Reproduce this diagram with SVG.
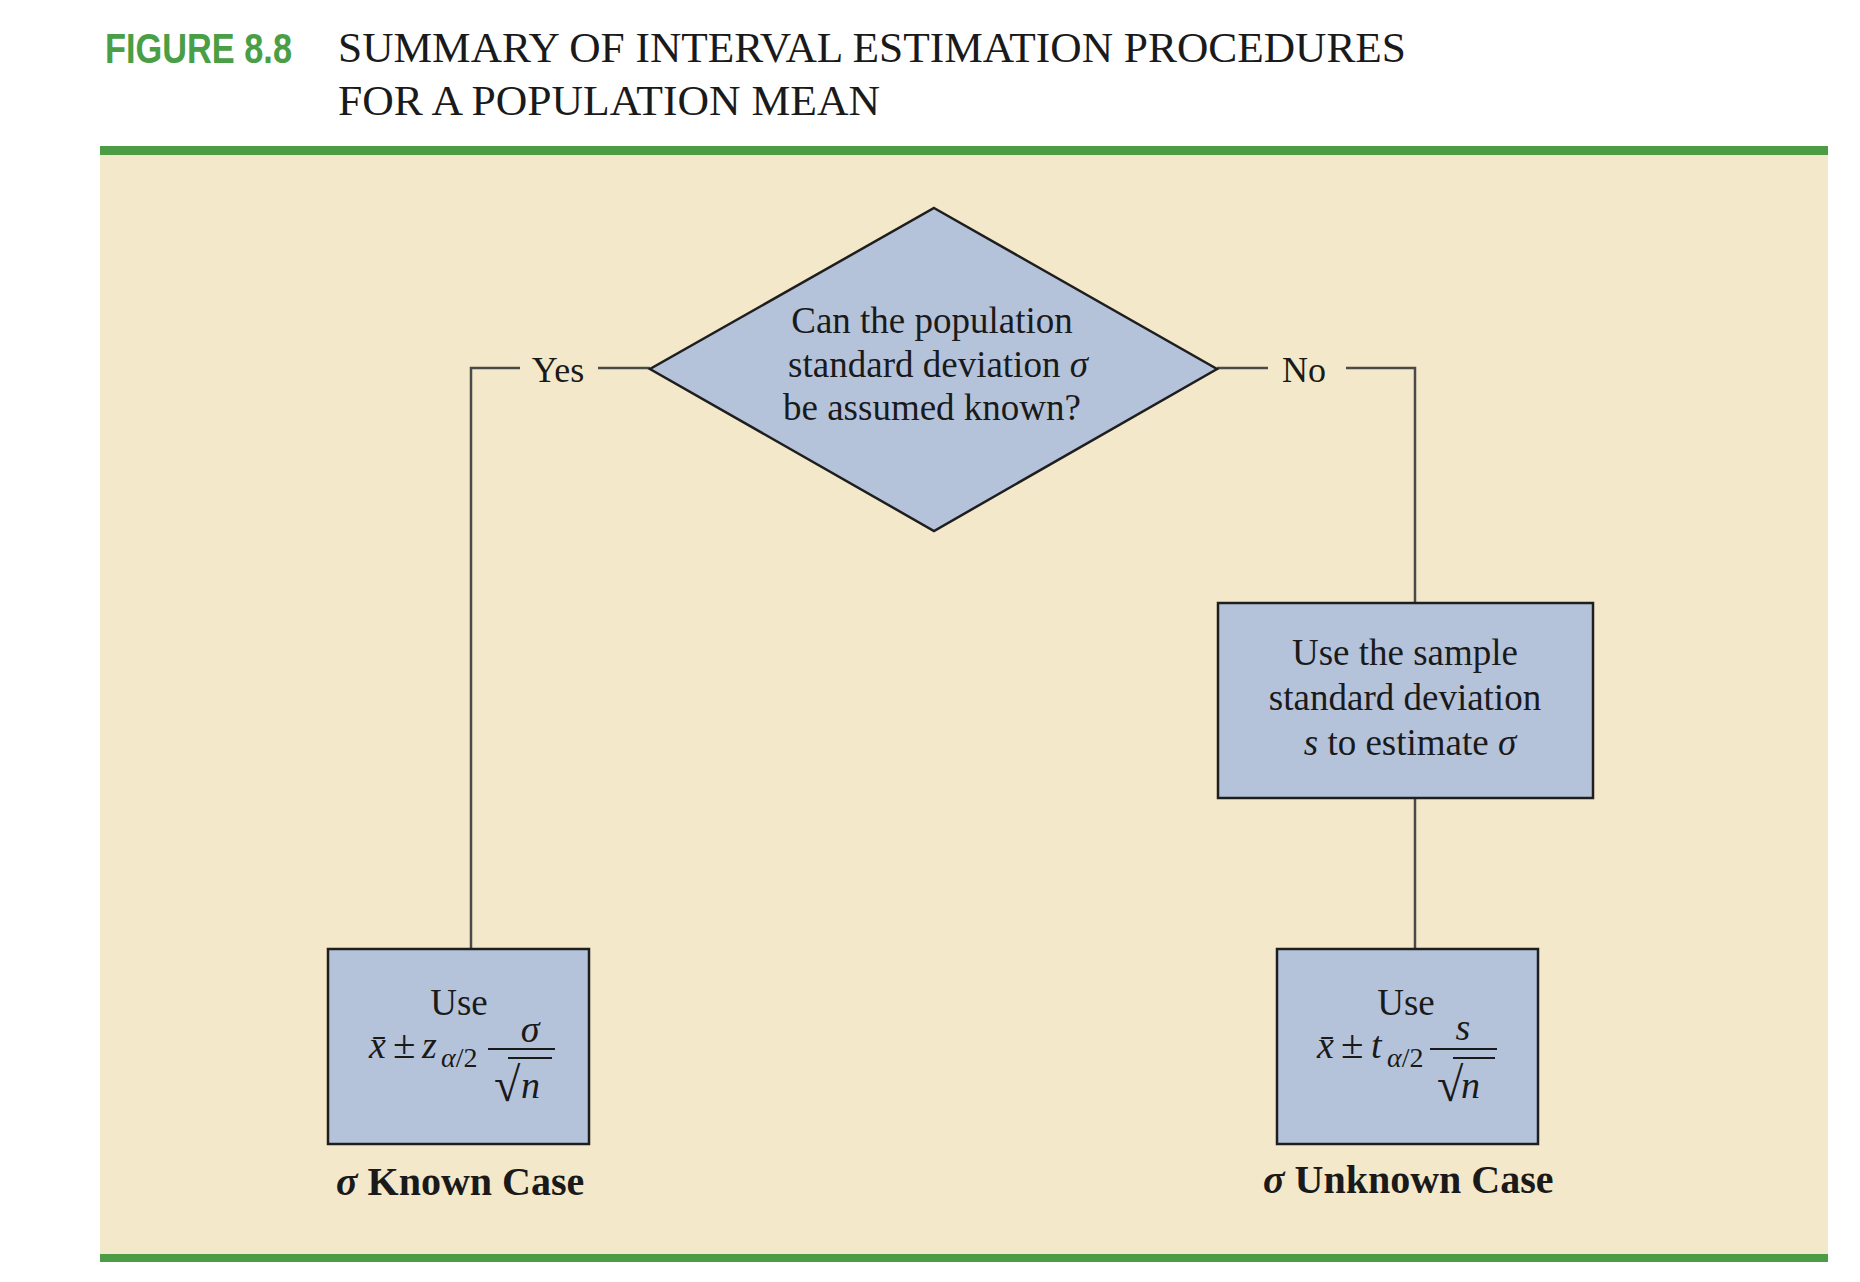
<svg xmlns="http://www.w3.org/2000/svg" width="1860" height="1282" viewBox="0 0 1860 1282">
<style>
.serif{font-family:"Liberation Serif","Times New Roman",serif;fill:#1a1a1a}
.t37{font-size:37px}
.lbl{font-size:36px}
.node{fill:#b5c3da;stroke:#1e1e1e;stroke-width:2.5}
.conn{fill:none;stroke:#4a4a4a;stroke-width:2.5}
.cap{font-size:40px;font-weight:bold}
.f38{font-size:38px}
.pm{font-size:41px}
.it{font-style:italic}
.bar{stroke:#1a1a1a;stroke-width:2}
</style>
<rect x="0" y="0" width="1860" height="1282" fill="#ffffff"/>
<g id="title">
<text x="105" y="63" font-family="Liberation Sans, Arial, sans-serif" font-weight="bold" font-size="42" fill="#4a9e45" textLength="187" lengthAdjust="spacingAndGlyphs">FIGURE 8.8</text>
<text class="serif" x="338" y="62" font-size="42.5" textLength="1068" lengthAdjust="spacingAndGlyphs">SUMMARY OF INTERVAL ESTIMATION PROCEDURES</text>
<text class="serif" x="338" y="115" font-size="42.5" textLength="542" lengthAdjust="spacingAndGlyphs">FOR A POPULATION MEAN</text>
</g>
<rect x="100" y="155" width="1728" height="1099" fill="#f3e8c9"/>
<rect x="100" y="146" width="1728" height="9" fill="#4b9c44"/>
<rect x="100" y="1254" width="1728" height="8" fill="#4b9c44"/>
<g id="connectors">
<polyline class="conn" points="650,368 598,368"/>
<polyline class="conn" points="520,368 471,368 471,949"/>
<polyline class="conn" points="1217,368 1268,368"/>
<polyline class="conn" points="1346,368 1415,368 1415,603"/>
<polyline class="conn" points="1415,798 1415,949"/>
<text class="serif lbl" x="558" y="382" text-anchor="middle">Yes</text>
<text class="serif lbl" x="1304" y="382" text-anchor="middle">No</text>
</g>
<g id="decision">
<polygon class="node" points="934,208 1217,369 934,531 650,369"/>
<text class="serif t37" x="932" y="333" text-anchor="middle">Can the population</text>
<text class="serif t37" x="938" y="377" text-anchor="middle">standard deviation <tspan class="it">σ</tspan></text>
<text class="serif t37" x="932" y="420" text-anchor="middle">be assumed known?</text>
</g>
<g id="sample-sd">
<rect class="node" x="1218" y="603" width="375" height="195"/>
<text class="serif t37" x="1405" y="665" text-anchor="middle">Use the sample</text>
<text class="serif t37" x="1405" y="710" text-anchor="middle">standard deviation</text>
<text class="serif t37" x="1410" y="755" text-anchor="middle"><tspan class="it">s</tspan> to estimate <tspan class="it">σ</tspan></text>
</g>
<g id="known-case">
<rect class="node" x="328" y="949" width="261" height="195"/>
<text class="serif t37" x="459" y="1015" text-anchor="middle">Use</text>
<text class="serif f38 it" x="369" y="1058">x̄</text>
<text class="serif pm" x="393" y="1058">±</text>
<text class="serif f38 it" x="422" y="1058">z</text>
<text class="serif" font-size="28" x="441" y="1067"><tspan class="it">α</tspan>/2</text>
<line class="bar" x1="488" y1="1049" x2="555" y2="1049"/>
<text class="serif f38 it" x="530" y="1042" text-anchor="middle">σ</text>
<text class="serif" font-size="48" x="494" y="1101">√</text>
<line class="bar" x1="508" y1="1058" x2="552" y2="1058"/>
<text class="serif f38 it" x="521" y="1098">n</text>
<text class="serif cap" x="336" y="1195"><tspan class="it">σ</tspan> Known Case</text>
</g>
<g id="unknown-case">
<rect class="node" x="1277" y="949" width="261" height="195"/>
<text class="serif t37" x="1406" y="1015" text-anchor="middle">Use</text>
<text class="serif f38 it" x="1317" y="1058">x̄</text>
<text class="serif pm" x="1341" y="1058">±</text>
<text class="serif f38 it" x="1371" y="1058">t</text>
<text class="serif" font-size="28" x="1387" y="1067"><tspan class="it">α</tspan>/2</text>
<line class="bar" x1="1430" y1="1049" x2="1497" y2="1049"/>
<text class="serif f38 it" x="1463" y="1040" text-anchor="middle">s</text>
<text class="serif" font-size="48" x="1437" y="1101">√</text>
<line class="bar" x1="1453" y1="1058" x2="1495" y2="1058"/>
<text class="serif f38 it" x="1461" y="1098">n</text>
<text class="serif cap" x="1263" y="1193"><tspan class="it">σ</tspan> Unknown Case</text>
</g>
</svg>
